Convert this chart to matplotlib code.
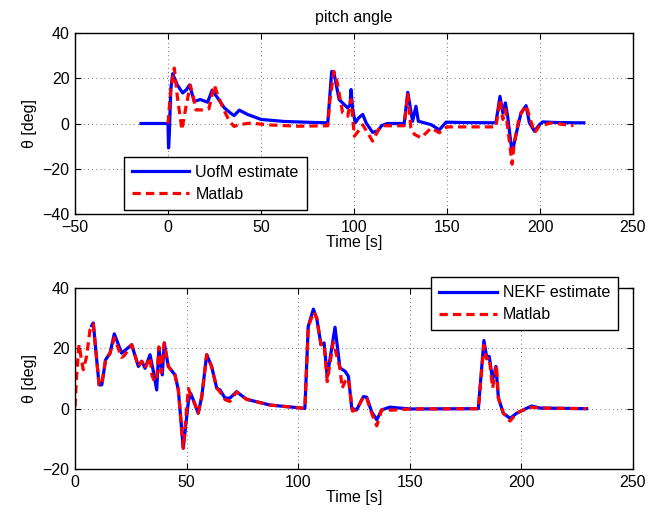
import matplotlib
matplotlib.use("Agg")
import matplotlib.pyplot as plt

plt.rcParams['font.family'] = ['Liberation Sans', 'DejaVu Sans']
plt.rcParams['font.size'] = 11.5

# ---- top panel data ----
top_uofm_t = [-14.5, 0, 0.3, 0.7, 1.5, 2.5, 3.5, 5, 7.9, 10, 11.5, 13, 14.1, 17.4, 21.3, 23.7, 26.7,
              30.3, 33.9, 35.6, 38.3, 42.8, 50, 62.5, 77, 85.9, 88, 89.4, 92, 96.6, 97.8, 98.4, 99.3,
              100.7, 102.5, 104.7, 106.5, 110, 112.7, 114.9, 118, 127, 128.9, 131.5, 133.3, 134.6,
              141.4, 145.9, 149.5, 160, 176.3, 178.5, 180, 181.4, 182.6, 185, 187.1, 189.8, 192.5,
              194.3, 197, 199.6, 201.4, 210, 223.6]
top_uofm_v = [0, 0, -10.8, -5, 15, 22, 20, 17, 13.5, 15, 17, 13, 9.8, 10.6, 9.4, 14.7, 11.3,
              6.9, 4.4, 3.5, 5.9, 4, 1.8, 0.9, 0.5, 0.3, 23, 21.6, 10.6, 6.9, 8, 15, 6.2,
              0.3, 2.5, 4, 0.3, -3.9, -3.4, -0.9, 0, 0, 13.8, 1, 7.6, 1,
              -0.5, -2.8, 0.6, 0.4, 0.3, 12, 4.7, 9.1, 3.2, -13, -4.9, 4.7, 7.9,
              0.3, -3.4, -0.6, 0.7, 0.4, 0.3]

top_matlab_t = [0, 1.5, 3.4, 5, 7.5, 9.7, 12, 13.5, 15, 19.5, 22, 24.9, 27, 30, 33, 35.6, 38, 44.6,
                53.6, 70, 85.9, 87, 89.2, 91, 93.9, 96.6, 98.4, 100.2, 102.9, 104.7, 107.3, 110,
                113.6, 116.3, 127, 128.9, 130.6, 132.5, 136, 139, 141.4, 145.9, 150, 176.3, 178.5,
                180, 181.4, 182.6, 185, 186.2, 188.9, 192.5, 194.3, 197, 199.6, 206, 216.7, 218]
top_matlab_v = [0, 15, 24.5, 12, -2.8, 7.6, 17, 12, 6, 6, 6.5, 17, 12, 6, 1, -1.3, -0.5, 0.2,
                -0.6, -1.2, -1, 10, 23, 18, 4.7, 3.2, 10.6, -5.6, -2.8, -0.6, -4.1, -7.8,
                -2, -1, -1, 13.5, -2, -4.8, -6.3, -4, -2, -4.1, -1.5, -1.5, 10.6,
                1.8, 6.2, -1.5, -18, -8.5, 3.2, 8, 3.2, -4.1, -1.2, 0.3, -0.9, -0.9]

# ---- bottom panel data ----
bot_nekf_t = [7.5, 8.2, 9.3, 10.8, 12, 13.7, 15.7, 17.6, 20.9, 25.4, 28.4, 29.9, 31.4, 33.6, 35.1,
              36.6, 37.6, 39.1, 40, 41.8, 44.8, 46.3, 48.5, 50.8, 51.8, 53, 55.2, 56.8, 59, 61.2,
              63.5, 65, 67.2, 69.4, 72.4, 76.9, 87.4, 103, 104.5, 106.8, 108.3, 110.2, 111.6, 113,
              116.5, 118.7, 121, 122.5, 124, 126.2, 129.2, 130.7, 132.9, 135.2, 137.4, 141.1, 150,
              180.7, 183.2, 184.4, 185.6, 187.1, 188.6, 189.7, 191.9, 194.9, 197.9, 200.9, 204.6,
              208.3, 229.2]
bot_nekf_v = [27.5, 28.4, 19.5, 7.9, 7.9, 16.2, 18.4, 24.8, 18.4, 21.2, 14, 15.7, 13.4, 17.9, 12.4,
              6.2, 20.1, 11.2, 21.8, 14, 11.2, 6.2, -13.1, 2.4, 5.1, 2.9, -1.5, 4, 17.9, 14,
              6.8, 6.2, 3.5, 3.5, 5.6, 3.1, 1.2, 0.1, 27.3, 33, 30, 21.2, 21.8, 10.7,
              27, 13.5, 12.4, 10.7, 0.1, -0.4, 4, 3.8, -1, -3.7, -0.4, 0.5, -0.1,
              0, 22.6, 17.3, 17.3, 9.5, 14, 3.5, -1.5, -3.2, -1.5, -0.4, 0.9,
              0.2, 0]

bot_matlab_t = [0, 0.7, 1.8, 3, 3.7, 5.2, 6.7, 8.2, 9.3, 10.8, 12, 13.7, 15.7, 17.6, 20.9, 22, 25.4,
                28.4, 29.9, 31.4, 33.6, 34.5, 35.6, 36.6, 37.6, 38.6, 40, 41.8, 44.8, 46.3, 48.5,
                50.8, 51.8, 53, 55.2, 56.8, 59, 61.2, 63.5, 65, 67.2, 69.4, 72.4, 76.9, 87.4, 103,
                104.5, 107, 108.3, 110.2, 111.6, 113, 115.7, 118.7, 119.7, 121, 122.5, 124.3, 126.2,
                129.2, 130.7, 132.9, 135.2, 137.4, 142, 150, 180.7, 183.2, 184.4, 185.6, 187.1,
                188.8, 189.7, 191.9, 194.9, 197.9, 200.9, 202, 204.6, 208.3, 229.2]
bot_matlab_v = [0.6, 10.7, 21.2, 15.7, 12.9, 17.3, 26.1, 28, 19.5, 7.9, 7.9, 16.2, 18.4, 23.5, 17, 17.5, 21.2,
                14, 15.7, 13.4, 17, 11, 9, 10, 20.5, 12, 21.8, 14, 11.2, 6.2, -13.1,
                6.7, 4.5, 2.9, -1.5, 4, 17.9, 14, 6.8, 5.5, 3, 2.4, 5.6, 3.1, 1.2, 0.1,
                27.3, 32, 30, 21.2, 21.5, 9, 22, 13.5, 6.8, 9, 10, -0.8, -0.4,
                4, 3.5, -1.5, -5.7, -0.4, -0.5, -0.1, 0, 21, 16.5, 17, 6.8,
                14.5, 3.5, -1.5, -4.1, -1.5, -0.4, -0.5, 0.5, 0.2, 0]

top_xticks = [-50, 0, 50, 100, 150, 200, 250]
top_yticks = [-40, -20, 0, 20, 40]
bot_xticks = [0, 50, 100, 150, 200, 250]
bot_yticks = [-20, 0, 20, 40]

fig = plt.figure(figsize=(6.71, 5.17), dpi=100)
ax1 = fig.add_axes([75/671, 1-214/517, 558/671, 181/517])
ax2 = fig.add_axes([75/671, 1-469/517, 558/671, 181/517])

dash = (0, (2.6, 1.6))

def style(ax, xt, yt):
    ax.set_xticks(xt)
    ax.set_yticks(yt)
    ax.set_xlim(xt[0], xt[-1])
    ax.set_ylim(yt[0], yt[-1])
    ax.tick_params(direction='in', top=True, right=True, length=4, width=0.8, labelsize=11.5, pad=4)
    ax.grid(True, color='#444444', linestyle=(0, (1, 4)), linewidth=0.6)
    for s in ax.spines.values():
        s.set_linewidth(1.0)
    ax.set_xlabel('Time [s]', labelpad=0)
    ax.set_ylabel('θ [deg]', labelpad=4)

legend_kw = dict(fancybox=False, edgecolor='black', framealpha=1, handlelength=3.6,
                 borderpad=0.5, labelspacing=0.45, handletextpad=0.4, borderaxespad=0,
                 fontsize=11.5)

ax1.plot(top_uofm_t, top_uofm_v, color='blue', lw=2.3, label='UofM estimate')
ax1.plot(top_matlab_t, top_matlab_v, color='red', lw=2.3, linestyle=dash, label='Matlab')
style(ax1, top_xticks, top_yticks)
ax1.set_title('pitch angle', fontsize=11.5, pad=8)
leg1 = ax1.legend(loc='upper left', bbox_to_anchor=(0.087, 0.317), **legend_kw)
leg1.get_frame().set_linewidth(1.0)

ax2.plot(bot_nekf_t, bot_nekf_v, color='blue', lw=2.3, label='NEKF estimate')
ax2.plot(bot_matlab_t, bot_matlab_v, color='red', lw=2.3, linestyle=dash, label='Matlab')
style(ax2, bot_xticks, bot_yticks)
leg2 = ax2.legend(loc='upper right', bbox_to_anchor=(0.974, 1.059), **legend_kw)
leg2.get_frame().set_linewidth(1.0)

fig.savefig('out.png', dpi=100)
